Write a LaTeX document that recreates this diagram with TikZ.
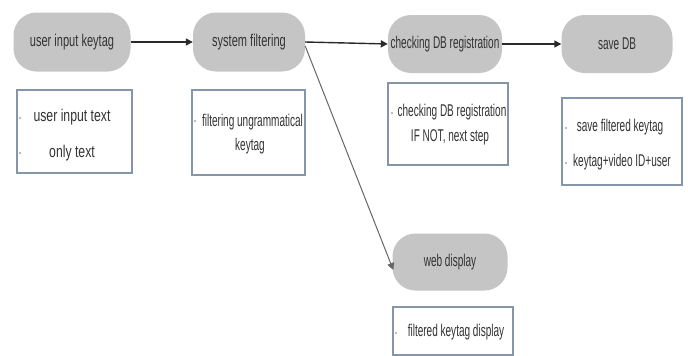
\documentclass[tikz,border=0pt]{standalone}
\usepackage{fontspec}
\setmainfont{Liberation Sans}
\newfontfamily\narrowA[FakeStretch=0.59]{Liberation Sans}
\newfontfamily\narrowB[FakeStretch=0.65]{Liberation Sans}
\newfontfamily\narrowC[FakeStretch=0.72]{Liberation Sans}
\usetikzlibrary{arrows.meta}
\definecolor{pillgray}{HTML}{C5C5C5}
\definecolor{txtgray}{HTML}{333333}
\definecolor{boxedge}{HTML}{8596AA}
\definecolor{arrowc}{HTML}{2A2A2A}
\tikzset{
  pill/.style={fill=pillgray, draw=none, rounded corners=23pt, inner sep=0pt,
    text=txtgray, font=\narrowA\fontsize{17}{20}\selectfont},
  infobox/.style={draw=boxedge, line width=1.3pt, fill=white, inner sep=0pt},
  boxtext/.style={text=txtgray, inner sep=0pt, font=\narrowA\fontsize{17}{20}\selectfont},
  bul/.style={circle, fill=gray!70, inner sep=0pt, minimum size=2.2pt},
  flow/.style={draw=arrowc, line width=1.4pt, -{Triangle[length=7pt,width=7pt]}},
}
\begin{document}
\begin{tikzpicture}[x=1pt,y=-1pt]
\path[use as bounding box, fill=white] (0,0) rectangle (688,356);

% pills
\node[pill, minimum width=117pt, minimum height=59pt, font=\narrowB\fontsize{17}{20}\selectfont] (p1) at (72,42) {user input keytag};
\node[pill, minimum width=112pt, minimum height=59pt, font=\narrowB\fontsize{17}{20}\selectfont] (p2) at (249,42) {system filtering};
\node[pill, minimum width=114pt, minimum height=58pt] (p3) at (445,44) {checking DB registration};
\node[pill, minimum width=111pt, minimum height=58pt] (p4) at (617,44) {save DB};
\node[pill, minimum width=115pt, minimum height=57pt] (p5) at (450,262) {web display};

% boxes
\node[infobox, minimum width=115pt, minimum height=83pt] (b1) at (74.5,131.5) {};
\node[infobox, minimum width=113pt, minimum height=85pt] (b2) at (248.5,132.5) {};
\node[infobox, minimum width=120pt, minimum height=82pt] (b3) at (448,124) {};
\node[infobox, minimum width=120pt, minimum height=87pt] (b4) at (622,141.5) {};
\node[infobox, minimum width=120pt, minimum height=48pt] (b5) at (453,331) {};

% box 1
\node[bul] (d1a) at (20,118) {};
\node[bul] (d1b) at (20,153) {};
\node[boxtext, font=\narrowC\fontsize{17}{20}\selectfont] (t1a) at (72,117) {user input text};
\node[boxtext, font=\narrowC\fontsize{17}{20}\selectfont] (t1b) at (72,153) {only text};

% box 2
\node[bul] (d2a) at (195,121) {};
\node[boxtext] (t2a) at (252.5,122) {filtering ungrammatical};
\node[boxtext] (t2b) at (250,146) {keytag};

% box 3
\node[bul] (d3a) at (392,113) {};
\node[boxtext] (t3a) at (452,112) {checking DB registration};
\node[boxtext] (t3b) at (450,137) {IF NOT, next step};

% box 4
\node[bul] (d4a) at (566,128) {};
\node[bul] (d4b) at (566,163) {};
\node[boxtext] (t4a) at (620,127) {save filtered keytag};
\node[boxtext] (t4b) at (622,162) {keytag+video ID+user};

% box 5
\node[bul] (d5a) at (396,333) {};
\node[boxtext] (t5a) at (456,332) {filtered keytag display};

% connectors
\draw[flow] (p1.east) -- (p2.west);
\draw[flow] (p2.east) -- (p3.west);
\draw[flow] (p4.west -| p3.east) -- (p4.west);
\draw[flow, line width=1pt, draw=gray!80!black] ([yshift=-4pt]p2.east) -- ([yshift=-8pt,xshift=1pt]p5.west);
\end{tikzpicture}
\end{document}
